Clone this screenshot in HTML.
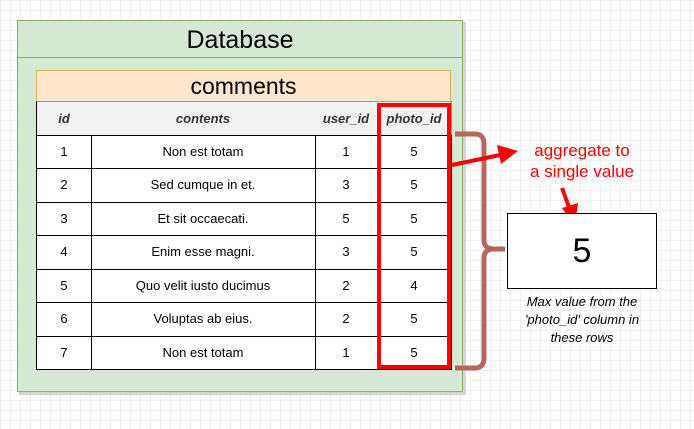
<!DOCTYPE html>
<html><head><style>
body{margin:0;width:694px;height:429px;overflow:hidden;font-family:"Liberation Sans",sans-serif;
background-color:#fff;background-image:linear-gradient(#f0f0f0 1px,transparent 1px),linear-gradient(90deg,#f0f0f0 1px,transparent 1px);background-size:10px 10px;position:relative}
.a{position:absolute;box-sizing:border-box}
.c{position:absolute;box-sizing:border-box;text-align:center;font-size:13px;border-right:1px solid #000;border-bottom:1px solid #000}
</style></head><body>
<div class="a" style="left:19px;top:22px;width:447px;height:373px;background:#bbb;opacity:.6"></div>
<div class="a" style="left:17px;top:20px;width:446px;height:372px;background:#d5e8d4;border:1px solid #82b366"></div>
<div class="a" style="left:17px;top:20px;width:446px;height:38px;border:1px solid #82b366;font-size:25px;text-align:center;line-height:38px">Database</div>
<div class="a" style="left:36px;top:70px;width:415px;height:32px;background:#ffe6cc;border:1px solid #d6b656;font-size:23px;text-align:center;line-height:30px">comments</div>
<div id="t" class="a" style="left:36px;top:101px;width:416px;height:269px;background:#fff;border-left:1px solid #000;border-top:1px solid #999"></div>
<script>
var cols=[36,91,315,377,451],rows=[101,135,168,202,235,269,302,336,369];
var data=[["id","contents","user_id","photo_id"],["1","Non est totam","1","5"],["2","Sed cumque in et.","3","5"],["3","Et sit occaecati.","5","5"],["4","Enim esse magni.","3","5"],["5","Quo velit iusto ducimus","2","4"],["6","Voluptas ab eius.","2","5"],["7","Non est totam","1","5"]];
var h="";
for(var r=0;r<8;r++)for(var c=0;c<4;c++){
var hd=r==0;
h+='<div class="c" style="left:'+cols[c]+'px;top:'+rows[r]+'px;width:'+(cols[c+1]-cols[c]+1)+'px;height:'+(rows[r+1]-rows[r]+1)+'px;line-height:'+(rows[r+1]-rows[r])+'px;'+(c==0?'border-left:1px solid #000;':'')+(hd?'background:#f2f2f2;font-style:italic;font-weight:bold;color:#333;border-top:1px solid #999;border-right-color:#999;':'')+'">'+data[r][c]+'</div>';}
document.write(h);
</script>
<div class="a" style="left:377px;top:103px;width:74px;height:266px;border:4px solid #f00"></div>
<svg class="a" width="694" height="429" style="left:0;top:0">
<path d="M455 134 H475 Q484 134 484 144 V240 Q484 249 494 249 H505 M494 249 Q484 249 484 258 V358 Q484 368 475 368 H455" fill="none" stroke="#b5675b" stroke-width="5"/>
<line x1="452" y1="165" x2="500" y2="155" stroke="#f00" stroke-width="4"/>
<polygon points="518,151 497,145 501,164" fill="#f00"/>
<line x1="562" y1="188" x2="570" y2="210" stroke="#f00" stroke-width="4"/>
<polygon points="575,226 562,208 578,203" fill="#f00"/>
</svg>
<div class="a" style="left:500px;top:140px;width:164px;text-align:center;color:#f00;font-size:17px;line-height:21px">aggregate to<br>a single value</div>
<div class="a" style="left:507px;top:213px;width:150px;height:76px;background:#fff;border:1px solid #000;font-size:34px;text-align:center;line-height:74px">5</div>
<div class="a" style="left:500px;top:293px;width:164px;text-align:center;font-style:italic;font-size:13px;line-height:18px">Max value from the<br>'photo_id' column in<br>these rows</div>
</body></html>
